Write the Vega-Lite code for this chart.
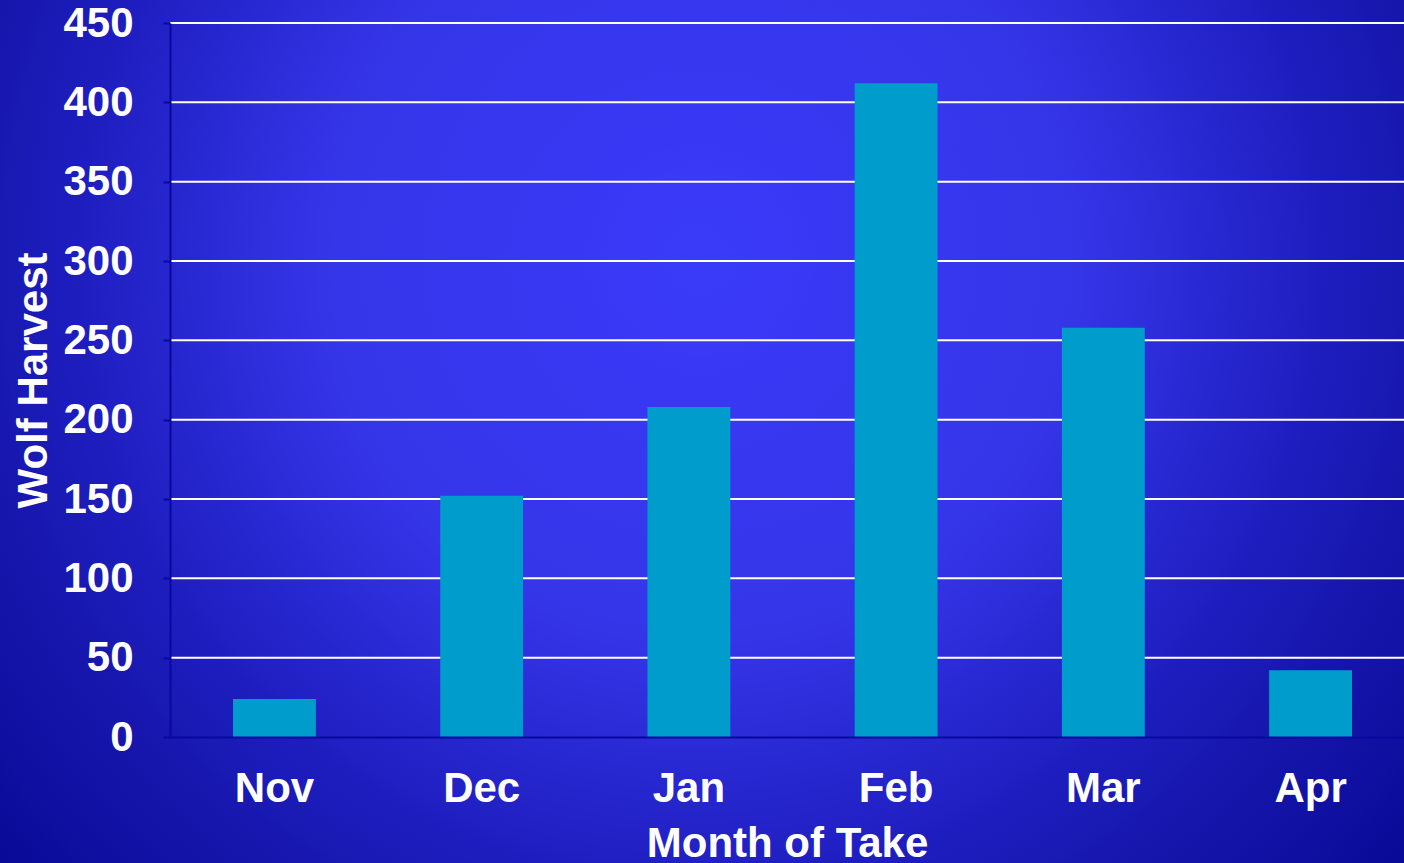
{
  "$schema": "https://vega.github.io/schema/vega-lite/v6.json",
  "width": 1234,
  "height": 714,
  "autosize": {"type": "none"},
  "padding": {"left": 170, "top": 23, "right": 0, "bottom": 126},
  "background": "#1414a8",
  "config": {"view": {"stroke": null}, "font": "Liberation Sans"},
  "datasets": {
    "harvest": [
      {"month": "Nov", "wolves": 24},
      {"month": "Dec", "wolves": 152},
      {"month": "Jan", "wolves": 208},
      {"month": "Feb", "wolves": 412},
      {"month": "Mar", "wolves": 258},
      {"month": "Apr", "wolves": 42}
    ],
    "grid": [
      {"level": 50}, {"level": 100}, {"level": 150}, {"level": 200}, {"level": 250},
      {"level": 300}, {"level": 350}, {"level": 400}, {"level": 450}
    ]
  },
  "layer": [
    {
      "data": {"values": [{}]},
      "mark": {
        "type": "rect",
        "color": {
          "gradient": "radial",
          "x1": 0.4986, "y1": 0.3778, "r1": 0,
          "x2": 0.4986, "y2": 0.3778, "r2": 0.712,
          "stops": [
            {"offset": 0, "color": "#3a3afa"},
            {"offset": 0.38, "color": "#3535e8"},
            {"offset": 0.62, "color": "#1e1ec0"},
            {"offset": 0.73, "color": "#1717ae"},
            {"offset": 0.92, "color": "#0a0a98"},
            {"offset": 1, "color": "#08089a"}
          ]
        }
      },
      "encoding": {
        "x": {"datum": -0.1378, "type": "quantitative", "scale": {"domain": [0, 1], "nice": false, "zero": false}, "axis": null},
        "x2": {"datum": 1},
        "y": {"datum": -79.5, "type": "quantitative", "scale": {"domain": [0, 450], "nice": false}, "title": "Wolf Harvest"},
        "y2": {"datum": 464.6}
      }
    },
    {
      "data": {"name": "grid"},
      "mark": {"type": "rule", "color": "white", "strokeWidth": 2},
      "encoding": {
        "y": {"field": "level", "type": "quantitative", "scale": {"domain": [0, 450], "nice": false}, "title": "Wolf Harvest"}
      }
    },
    {
      "data": {"name": "harvest"},
      "mark": {"type": "bar", "color": "#009ccc"},
      "encoding": {
        "x": {
          "field": "month", "type": "nominal", "sort": null,
          "scale": {"paddingInner": 0.6, "paddingOuter": 0.2775, "align": 0.548},
          "axis": {
            "orient": "bottom", "title": "Month of Take", "labelAngle": 0,
            "ticks": false, "tickSize": 0, "labelPadding": 31,
            "labelFontSize": 42, "labelFontWeight": "bold", "labelColor": "white", "labelFont": "Liberation Sans",
            "titleFontSize": 42, "titleFontWeight": "bold", "titleColor": "white", "titleFont": "Liberation Sans",
            "titlePadding": 14, "domainColor": "#0808a0", "domainWidth": 2, "zindex": 1
          }
        },
        "y": {
          "field": "wolves", "type": "quantitative",
          "scale": {"domain": [0, 450], "nice": false},
          "title": "Wolf Harvest",
          "axis": {
            "values": [0, 50, 100, 150, 200, 250, 300, 350, 400, 450],
            "grid": false, "tickSize": 7, "tickColor": "#0808a0", "tickWidth": 2,
            "domainColor": "#0808a0", "domainWidth": 2,
            "labelPadding": 30, "labelFontSize": 42, "labelFontWeight": "bold", "labelColor": "white", "labelFont": "Liberation Sans",
            "titleFontSize": 42, "titleFontWeight": "bold", "titleColor": "white", "titleFont": "Liberation Sans",
            "titlePadding": 7, "zindex": 1
          }
        }
      }
    }
  ],
  "resolve": {"scale": {"x": "independent"}}
}
